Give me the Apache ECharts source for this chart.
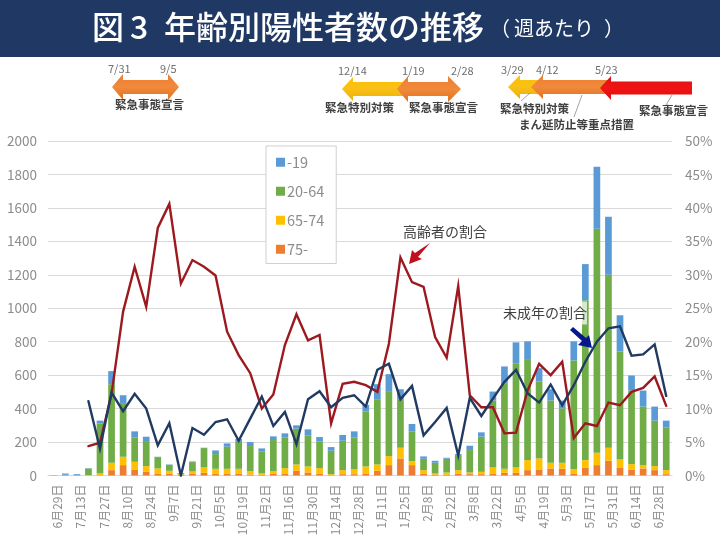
<!DOCTYPE html>
<html><head><meta charset="utf-8">
<style>html,body{margin:0;padding:0;background:#fff}#c{width:720px;height:540px}</style>
<script src="https://cdn.jsdelivr.net/npm/echarts@6/dist/echarts.min.js"></script>
</head><body><div id="c"></div>
<script>
const FONT = '"Noto Sans CJK JP","Noto Sans",sans-serif';
const weeks = ['6月29日','7月6日','7月13日','7月20日','7月27日','8月3日','8月10日','8月17日','8月24日','8月31日','9月7日','9月14日','9月21日','9月28日','10月5日','10月12日','10月19日','10月26日','11月2日','11月9日','11月16日','11月23日','11月30日','12月7日','12月14日','12月21日','12月28日','1月4日','1月11日','1月18日','1月25日','2月1日','2月8日','2月15日','2月22日','3月1日','3月8日','3月15日','3月22日','3月29日','4月5日','4月12日','4月19日','4月26日','5月3日','5月10日','5月17日','5月24日','5月31日','6月7日','6月14日','6月21日','6月28日','7月5日'];
const age75 = [0,0,0,0,2,32,62,36,22,12,12,4,12,16,12,12,12,6,4,12,12,28,18,12,2,8,8,12,28,62,102,62,12,6,4,10,8,8,12,16,16,32,36,42,40,12,48,62,88,48,36,42,32,8];
const age65 = [0,0,0,2,10,44,50,46,34,30,16,4,12,32,28,28,28,20,8,14,32,38,36,32,6,24,28,42,38,54,64,24,20,6,14,22,10,14,36,24,32,60,66,34,36,26,44,74,78,48,32,20,24,24];
const age20 = [2,4,2,40,300,470,316,146,150,68,36,6,56,116,88,132,166,150,130,186,182,214,184,158,140,176,192,328,390,384,286,178,68,64,82,90,134,210,400,508,620,604,460,372,326,650,956,1339,1034,646,440,350,272,254];
const age19 = [0,8,6,2,16,78,52,36,26,2,2,0,4,2,22,20,12,24,20,22,26,20,38,28,22,34,36,40,90,106,64,44,14,12,6,6,26,26,54,104,128,106,80,68,46,114,216,371,347,216,90,96,84,42];
const elderRatio = [null,null,null,4.4,4.9,12.2,24.5,31.2,25.2,37,40.6,28.7,32.2,31.2,29.9,21.5,18,15.3,10,12.1,19.5,24.1,20.2,21,7.8,13.7,14,13.5,12.5,19.7,32.6,28.9,28.2,20.7,17.6,28.3,12,10.2,10.2,6.3,6.4,12.7,16.7,15,17,5.6,7.8,7.4,10.9,10.5,12.5,13.1,14.8,10.4];
const minorRatio = [null,null,null,11.1,4,12.4,9.6,12.2,10,4.5,7.8,0,7.1,6.1,8,8.4,5.2,8.5,11.8,7.4,9.5,4.7,11.4,12.6,10.2,11.6,12,10.3,15.8,16.7,11.4,13.4,6,8,10.1,3,11.6,8.9,11.5,14,15.8,12.3,10.9,13.6,10.5,13.5,17,20,22,22.3,17.9,18.1,19.6,11.9];
const legendOrder = ['-19','20-64','65-74','75-'];
const ticksLeft = 2000, ticksRight = 50;

function vGrad(a,b,c){return {type:'linear',x:0,y:0,x2:0,y2:1,colorStops:[{offset:0,color:a},{offset:.5,color:b},{offset:1,color:c}]};}
function arrow(pts,fill,z){return {type:'polygon',z:z,shape:{points:pts},style:{fill:fill}};}
function leftArrow(tip,base,end,cy,hh,sh,fill,z){
  return arrow([[tip,cy],[base,cy-hh],[base,cy-sh],[end,cy-sh],[end,cy+sh],[base,cy+sh],[base,cy+hh]],fill,z);
}
function dblArrow(t1,b1,b2,t2,cy,hh,sh,fill,z){
  return arrow([[t1,cy],[b1,cy-hh],[b1,cy-sh],[b2,cy-sh],[b2,cy-hh],[t2,cy],[b2,cy+hh],[b2,cy+sh],[b1,cy+sh],[b1,cy+hh]],fill,z);
}
function txt(x,y,s,size,color,weight,extra){
  return {type:'text',x:x,y:y,z:20,style:Object.assign({text:s,fill:color,font:(weight||'normal')+' '+size+'px '+FONT,textVerticalAlign:'middle',textAlign:'left'},extra||{})};
}
function ln(x1,y1,x2,y2){return {type:'line',z:15,shape:{x1,y1,x2,y2},style:{stroke:'#8c8c8c',lineWidth:0.8}};}
const orangeG = vGrad('#ed7d31','#f08a3c','#e0701f');
const yellowG = vGrad('#ffc000','#f8c018','#eeb000');
const redG = vGrad('#e21010','#f01515','#d80c0c');

const graphics = [
  {type:'rect',z:1,shape:{x:0,y:0,width:720,height:57},style:{fill:'#1f3864'}},
  txt(92,27,'図',32,'#fff','500'),
  txt(130,27,'3',32,'#fff','500'),
  txt(164,27,'年齢別陽性者数の推移',32,'#fff','500'),
  txt(490,28,'（',20,'#fff'),
  txt(514,28,'週あたり',20,'#fff'),
  txt(604,28,'）',20,'#fff'),

  dblArrow(112,123,168,179,87,13,7,orangeG,10),
  leftArrow(342,353,410,89,12,7,yellowG,10),
  dblArrow(397,408,448,461,89,13,7,orangeG,11),
  leftArrow(508,520,545,87,12,7,yellowG,10),
  leftArrow(531,543,610,87,12,7,orangeG,11),
  leftArrow(600,611,692,88,12,6.5,redG,12),

  txt(108,69,'7/31',11,'#6f6f6f'), txt(160,69,'9/5',11,'#6f6f6f'),
  txt(338,71,'12/14',11,'#6f6f6f'), txt(402,71,'1/19',11,'#6f6f6f'), txt(451,71,'2/28',11,'#6f6f6f'),
  txt(501,70,'3/29',11,'#6f6f6f'), txt(536,70,'4/12',11,'#6f6f6f'), txt(595,70,'5/23',11,'#6f6f6f'),

  txt(115,105,'緊急事態宣言',11.5,'#404040','bold'),
  txt(325,108,'緊急特別対策',11.5,'#404040','bold'),
  txt(409,108,'緊急事態宣言',11.5,'#404040','bold'),
  txt(500,109,'緊急特別対策',11.5,'#404040','bold'),
  txt(519,125,'まん延防止等重点措置',11.5,'#404040','bold'),
  txt(639,111,'緊急事態宣言',11.5,'#404040','bold'),
  ln(530,93,521,101), ln(582,95,574,117), ln(672,95,666,105),

  txt(403,232,'高齢者の割合',14,'#404040'),
  arrow([[430,243],[418,257],[422,259],[409,264],[412,250],[415,253]],'#c00f1e',30),
  txt(503,313,'未成年の割合',14,'#404040','normal',{backgroundColor:'rgba(255,255,255,0.72)',padding:[5,0,4,0]}),
  arrow([[573,327],[586,338],[589,335],[592,348],[578,345],[582,341],[570,330]],'#06188c',30)
];

const barBase = {type:'bar',stack:'a',yAxisIndex:0,barCategoryGap:'42%'};
const chart = echarts.init(document.getElementById('c'),null,{renderer:'canvas'});
chart.setOption({
  animation:false,
  backgroundColor:'#fff',
  textStyle:{fontFamily:FONT},
  grid:{left:48,right:48,top:141,bottom:64.5},
  legend:{
    data:legendOrder,orient:'vertical',left:266,top:146,
    width:68,padding:[9,12,7,10],itemGap:14.5,itemWidth:9,itemHeight:9,
    icon:'rect',borderColor:'#d0d0d0',borderWidth:1,backgroundColor:'#fff',z:8,
    textStyle:{color:'#8c8c8c',fontSize:14.5,padding:[0,0,0,-3]}
  },
  xAxis:{type:'category',data:weeks,
    axisTick:{show:false},
    axisLine:{lineStyle:{color:'#d9d9d9'}},
    axisLabel:{interval:1,rotate:90,color:'#8c8c8c',fontSize:12,margin:9,verticalAlign:'top',lineHeight:8,hideOverlap:false}
  },
  yAxis:[
    {type:'value',min:0,max:ticksLeft,interval:200,
      axisLine:{show:false},axisTick:{show:false},
      axisLabel:{color:'#8c8c8c',fontSize:13.5,margin:11,formatter:function(v){return String(v);}},
      splitLine:{lineStyle:{color:'#d9d9d9'}}},
    {type:'value',min:0,max:ticksRight,interval:5,
      axisLine:{show:false},axisTick:{show:false},
      axisLabel:{color:'#8c8c8c',fontSize:13.5,margin:13,formatter:'{value}%'},
      splitLine:{show:false}}
  ],
  graphic:graphics,
  series:[
    Object.assign({},barBase,{name:'75-',data:age75,itemStyle:{color:'#ed7d31'}}),
    Object.assign({},barBase,{name:'65-74',data:age65,itemStyle:{color:'#ffc000'}}),
    Object.assign({},barBase,{name:'20-64',data:age20,itemStyle:{color:'#70ad47'}}),
    Object.assign({},barBase,{name:'-19',data:age19,itemStyle:{color:'#5b9bd5'}}),
    {type:'line',name:'高齢者の割合',yAxisIndex:1,data:elderRatio,symbol:'none',z:5,
      lineStyle:{color:'#9c1a1f',width:2.4,cap:'round',join:'miter'}},
    {type:'line',name:'未成年の割合',yAxisIndex:1,data:minorRatio,symbol:'none',z:6,
      lineStyle:{color:'#203a62',width:2.4,cap:'round',join:'miter'}}
  ]
});
</script></body></html>
